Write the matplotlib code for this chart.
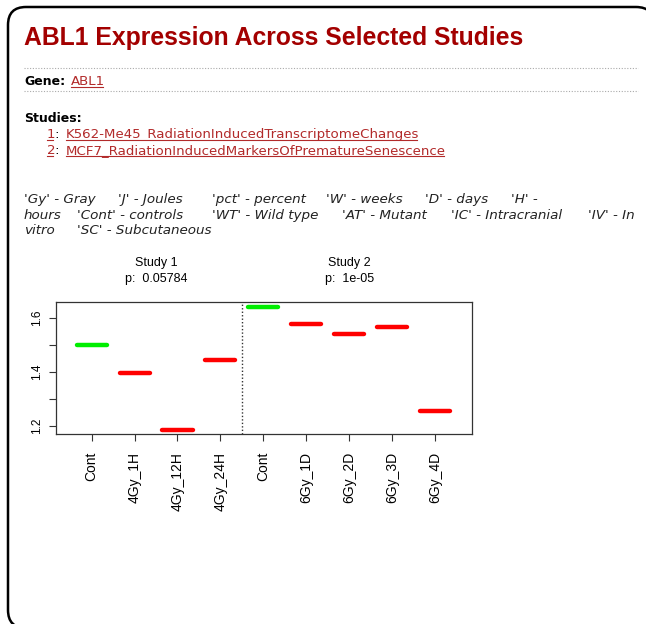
import matplotlib.pyplot as plt
from matplotlib import font_manager
from matplotlib.patches import FancyBboxPatch

page_title = 'ABL1 Expression Across Selected Studies'
gene = 'ABL1'
studies = ['K562-Me45_RadiationInducedTranscriptomeChanges',
           'MCF7_RadiationInducedMarkersOfPrematureSenescence']
study_names = ['Study 1', 'Study 2']
study_p = ['0.05784', '1e-05']

groups1 = ['Cont', '4Gy_1H', '4Gy_12H', '4Gy_24H']
values1 = [1.501, 1.397, 1.186, 1.444]
groups2 = ['Cont', '6Gy_1D', '6Gy_2D', '6Gy_3D', '6Gy_4D']
values2 = [1.642, 1.577, 1.542, 1.568, 1.257]

legend_lines = [
    ["'Gy' - Gray", "'J' - Joules", "'pct' - percent", "'W' - weeks", "'D' - days", "'H' -"],
    ["hours", "'Cont' - controls", "'WT' - Wild type", "'AT' - Mutant", "'IC' - Intracranial", "'IV' - In"],
    ["vitro", "'SC' - Subcutaneous"],
]
# where each piece starts on its line (pixels)
legend_x = [
    [24, 118, 212, 326, 425, 511],
    [24, 77, 212, 342, 451, 588],
    [24, 77],
]
legend_y = [203, 219, 234]

W, H = 646, 624
title_red = '#a30000'
link_red = '#b22a2a'


def arial_bold():
    # make sure the wide Liberation Sans is used, not the Narrow one
    for f in font_manager.fontManager.ttflist:
        fn = f.fname.lower()
        if f.name == 'Liberation Sans' and f.weight in (700, 'bold') \
                and f.style == 'normal' and 'narrow' not in fn:
            return font_manager.FontProperties(fname=f.fname)
    return font_manager.FontProperties(family='Liberation Sans', weight='bold')


fig = plt.figure(figsize=(W / 100, H / 100), dpi=100)
page = fig.add_axes([0, 0, 1, 1])
page.set_xlim(0, W)
page.set_ylim(H, 0)
page.axis('off')

# rounded frame, right side runs off the picture
frame = FancyBboxPatch((8, 7), 646, 621, boxstyle='round,pad=0,rounding_size=18',
                       fc='white', ec='black', lw=1.8)
page.add_patch(frame)

tp = arial_bold()
tp.set_size(17.8)
page.text(24, 44.5, page_title, fontproperties=tp, color=title_red, va='baseline')
for yy in [68, 91]:
    page.plot([24, 638], [yy, yy], color='#aaaaaa', lw=0.8, ls=(0, (1, 1.5)))

body = 'DejaVu Sans'
links = []
page.text(24, 85, 'Gene:', fontsize=9, fontweight='bold', family=body, va='baseline')
links.append((page.text(71, 85, gene, fontsize=9.6, color=link_red, family=body,
                        va='baseline'), 85))
page.text(24, 121.5, 'Studies:', fontsize=9, fontweight='bold', family=body, va='baseline')
for i, s in enumerate(studies):
    yb = 138 + 16 * i
    links.append((page.text(46.5, yb, str(i + 1), fontsize=9.6, color=link_red, family=body,
                            va='baseline'), yb))
    page.text(54.5, yb, ':', fontsize=9.6, family=body, va='baseline')
    links.append((page.text(65.7, yb, s, fontsize=9.6, color=link_red, family=body,
                            va='baseline'), yb))

for pieces, xs, yb in zip(legend_lines, legend_x, legend_y):
    for p, x in zip(pieces, xs):
        page.text(x, yb, p, fontsize=9.7, style='italic', family=body, va='baseline',
                  color='#222222')

fig.canvas.draw()
rend = fig.canvas.get_renderer()
inv = page.transData.inverted()
for txt, yb in links:
    bb = txt.get_window_extent(rend)
    x0 = inv.transform((bb.x0, bb.y0))[0]
    x1 = inv.transform((bb.x1, bb.y0))[0]
    page.plot([x0, x1 - 2], [yb + 2, yb + 2], color=link_red, lw=0.8)

# the chart
ax = fig.add_axes([56 / W, 1 - 434 / H, 416 / W, 132 / H])
labels = groups1 + groups2
values = values1 + values2
xpos = list(range(1, len(labels) + 1))
colors = ['#00ee00' if g == 'Cont' else '#ff0000' for g in labels]
ax.hlines(values, [x - 0.35 for x in xpos], [x + 0.35 for x in xpos], colors=colors,
          lw=3.2, capstyle='round')
ax.axvline(len(groups1) + 0.5, color='#333333', lw=1, ls=(0, (1, 1.5)))
ax.set_xlim(0.17, 9.86)
ax.set_ylim(1.170, 1.659)

ax.set_xticks(xpos)
ax.set_xticklabels(labels, rotation=90, va='top', ha='center', fontsize=10,
                   family='Liberation Sans')
ax.set_yticks([1.2, 1.3, 1.4, 1.5, 1.6])
ax.set_yticklabels(['1.2', '', '1.4', '', '1.6'], rotation=90, va='center',
                   fontsize=8.5, family='Liberation Sans')
ax.tick_params(length=5, width=0.8, color='#333333', pad=4)
ax.tick_params(axis='x', pad=8)
for sp in ax.spines.values():
    sp.set_linewidth(0.9)
    sp.set_color('#333333')

tr = ax.get_xaxis_transform()
centers = [(1 + len(groups1)) / 2, len(groups1) + (1 + len(groups2)) / 2]
for c, name, p in zip(centers, study_names, study_p):
    ax.text(c, 1.295, name, transform=tr, ha='center', va='center', fontsize=9,
            family='Liberation Sans')
    ax.text(c, 1.174, 'p:  ' + p, transform=tr, ha='center', va='center', fontsize=9,
            family='Liberation Sans')

fig.savefig('out.png', dpi=100)
